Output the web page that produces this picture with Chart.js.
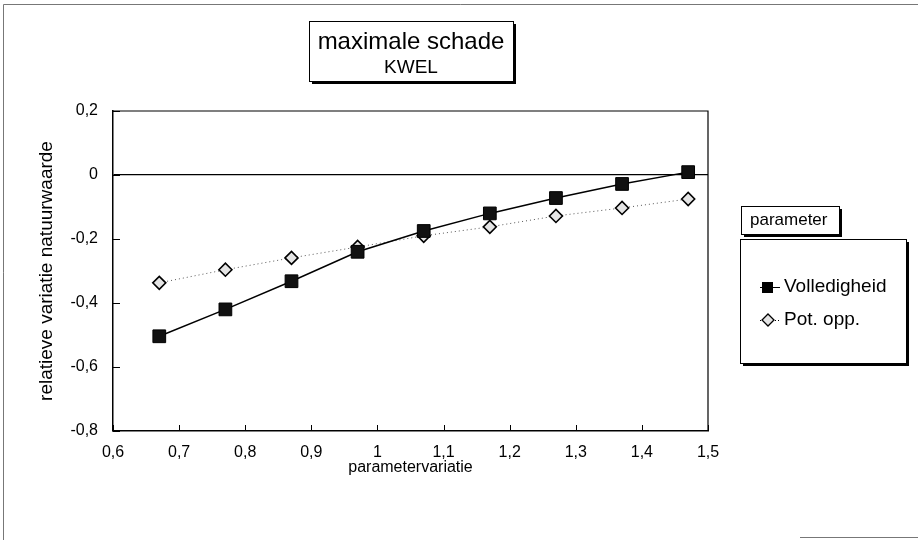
<!DOCTYPE html>
<html>
<head>
<meta charset="utf-8">
<script src="https://cdn.jsdelivr.net/npm/chart.js@4.4.1/dist/chart.umd.min.js"></script>
<style>
  html, body { margin: 0; padding: 0; background: #fff; }
  #wrap { position: relative; width: 920px; height: 544px; }
</style>
</head>
<body>
<div id="wrap"><canvas id="kwelChart" width="920" height="544"></canvas></div>
<script>
// parametervariatie (x) en relatieve variatie natuurwaarde (y)
const parameterVariatie = [0.67, 0.77, 0.87, 0.97, 1.07, 1.17, 1.27, 1.37, 1.47];
const volledigheid = [-0.504, -0.42, -0.332, -0.24, -0.175, -0.12, -0.072, -0.028, 0.009];
const potOpp = [-0.337, -0.296, -0.259, -0.225, -0.19, -0.162, -0.128, -0.103, -0.075];

const xTicks = [0.6, 0.7, 0.8, 0.9, 1.0, 1.1, 1.2, 1.3, 1.4, 1.5];
const yTicks = [-0.8, -0.6, -0.4, -0.2, 0, 0.2];

const seriesNames = ['Volledigheid', 'Pot. opp.'];
const titleLines = ['maximale schade', 'KWEL'];
const legendTitle = 'parameter';

const FONT = '"Liberation Sans", Arial, sans-serif';

function komma(v) {
  const r = Math.round(v * 10) / 10;
  return String(r).replace('.', ',');
}

function toPoints(ys) {
  return parameterVariatie.map((x, i) => ({ x: x, y: ys[i] }));
}

// kader met schaduw rechtsonder
function schaduwKader(ctx, x, y, w, h) {
  ctx.save();
  ctx.fillStyle = '#000';
  ctx.fillRect(x + 3, y + 3, w, h);
  ctx.fillStyle = '#fff';
  ctx.fillRect(x, y, w, h);
  ctx.strokeStyle = '#000';
  ctx.lineWidth = 1;
  ctx.strokeRect(x + 0.5, y + 0.5, w, h);
  ctx.restore();
}

const extraTekening = {
  id: 'extraTekening',
  afterDraw(chart) {
    const ctx = chart.ctx;
    const area = chart.chartArea;
    const xs = chart.scales.x;
    const ys = chart.scales.y;

    // bovenrand en rechterrand van het plotvlak
    ctx.save();
    ctx.strokeStyle = '#000';
    ctx.lineWidth = 1.2;
    ctx.beginPath();
    ctx.moveTo(area.left, area.top);
    ctx.lineTo(area.right, area.top);
    ctx.lineTo(area.right, area.bottom);
    ctx.stroke();

    // maatstreepjes naar binnen
    ctx.lineWidth = 1;
    ctx.beginPath();
    yTicks.forEach(v => {
      const py = Math.round(ys.getPixelForValue(v)) + 0.5;
      ctx.moveTo(area.left, py);
      ctx.lineTo(area.left + 7, py);
    });
    xTicks.forEach(v => {
      const px = Math.round(xs.getPixelForValue(v)) + 0.5;
      ctx.moveTo(px, area.bottom);
      ctx.lineTo(px, area.bottom - 6);
    });
    ctx.stroke();

    // buitenrand van de figuur
    ctx.strokeStyle = '#777';
    ctx.beginPath();
    ctx.moveTo(3.5, 540);
    ctx.lineTo(3.5, 4.5);
    ctx.lineTo(918, 4.5);
    ctx.stroke();
    ctx.beginPath();
    ctx.moveTo(800, 537.5);
    ctx.lineTo(918, 537.5);
    ctx.stroke();
    ctx.restore();

    // titelkader
    schaduwKader(ctx, 309, 21, 204, 60);
    ctx.save();
    ctx.fillStyle = '#000';
    ctx.textAlign = 'center';
    ctx.textBaseline = 'middle';
    ctx.font = '24px ' + FONT;
    ctx.fillText(titleLines[0], 411, 42);
    ctx.font = '19px ' + FONT;
    ctx.fillText(titleLines[1], 411, 68);
    ctx.restore();

    // legenda
    schaduwKader(ctx, 741, 206, 98, 28);
    schaduwKader(ctx, 740, 239, 166, 124);
    ctx.save();
    ctx.fillStyle = '#000';
    ctx.textBaseline = 'middle';
    ctx.font = '17px ' + FONT;
    ctx.fillText(legendTitle, 750, 220);
    ctx.font = '19px ' + FONT;
    ctx.fillText(seriesNames[0], 784, 287);
    ctx.fillText(seriesNames[1], 784, 320);

    // legendasymbolen
    ctx.strokeStyle = '#000';
    ctx.lineWidth = 1;
    ctx.beginPath();
    ctx.moveTo(760, 287.5);
    ctx.lineTo(780, 287.5);
    ctx.stroke();
    ctx.fillRect(762, 282, 11, 11);

    ctx.setLineDash([1, 2]);
    ctx.beginPath();
    ctx.moveTo(760, 320.5);
    ctx.lineTo(780, 320.5);
    ctx.stroke();
    ctx.setLineDash([]);
    ctx.beginPath();
    ctx.moveTo(768, 314);
    ctx.lineTo(774, 320);
    ctx.lineTo(768, 326);
    ctx.lineTo(762, 320);
    ctx.closePath();
    ctx.fillStyle = '#e4e4e4';
    ctx.fill();
    ctx.lineWidth = 1.3;
    ctx.stroke();
    ctx.restore();
  }
};

new Chart(document.getElementById('kwelChart'), {
  type: 'scatter',
  data: {
    datasets: [
      {
        label: seriesNames[0],
        data: toPoints(volledigheid),
        showLine: true,
        borderColor: '#000',
        borderWidth: 1.5,
        backgroundColor: '#000',
        pointStyle: 'rect',
        pointRadius: 9,
        pointBorderWidth: 1,
        pointBorderColor: '#000',
        pointBackgroundColor: '#111',
        order: 1
      },
      {
        label: seriesNames[1],
        data: toPoints(potOpp),
        showLine: true,
        borderColor: '#555',
        borderWidth: 1,
        borderDash: [1, 3],
        pointStyle: 'rectRot',
        pointRadius: 6.5,
        pointBorderWidth: 1.6,
        pointBorderColor: '#000',
        pointBackgroundColor: '#e4e4e4',
        order: 2
      }
    ]
  },
  options: {
    responsive: false,
    animation: false,
    layout: { padding: { left: 0, top: 111, right: 212, bottom: 0 } },
    plugins: {
      legend: { display: false },
      tooltip: { enabled: false }
    },
    scales: {
      x: {
        type: 'linear',
        min: 0.6,
        max: 1.5,
        afterBuildTicks: (scale) => { scale.ticks = xTicks.map(v => ({ value: v })); },
        afterFit: (scale) => { scale.height = 113; },
        grid: { display: false },
        border: { display: true, color: '#000', width: 1.5 },
        ticks: {
          color: '#000',
          padding: 4,
          font: { family: FONT, size: 16 },
          callback: (v) => komma(v)
        },
        title: {
          display: true,
          text: 'parametervariatie',
          color: '#000',
          font: { family: FONT, size: 16 },
          padding: { top: 0, bottom: 67 }
        }
      },
      y: {
        type: 'linear',
        min: -0.8,
        max: 0.2,
        afterBuildTicks: (scale) => { scale.ticks = yTicks.map(v => ({ value: v })); },
        afterFit: (scale) => { scale.width = 113; },
        grid: {
          drawTicks: false,
          drawOnChartArea: true,
          color: (c) => (c.tick && c.tick.value === 0 ? '#000' : 'rgba(0,0,0,0)'),
          lineWidth: 1.2
        },
        border: { display: true, color: '#000', width: 1.5 },
        ticks: {
          color: '#000',
          padding: 15,
          font: { family: FONT, size: 16 },
          callback: (v) => komma(v)
        },
        title: {
          display: true,
          text: 'relatieve variatie natuurwaarde',
          color: '#000',
          font: { family: FONT, size: 19 },
          padding: { top: 35, bottom: 0 }
        }
      }
    }
  },
  plugins: [extraTekening]
});
</script>
</body>
</html>
